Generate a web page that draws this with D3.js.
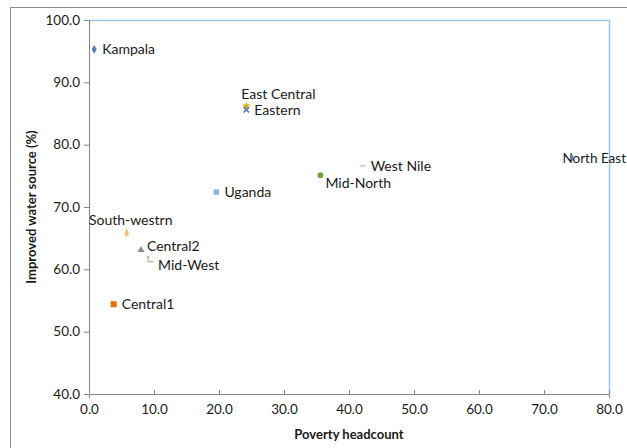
<!DOCTYPE html>
<html><head><meta charset="utf-8">
<script src="https://cdn.jsdelivr.net/npm/d3@7"></script>
<style>
body{margin:0;background:#fff;}
svg text{font-family:"Lato","Open Sans",sans-serif;fill:#1a1a1a;}
</style></head>
<body><svg id="c" width="627" height="448"></svg>
<script>
const regions = ["Kampala","East Central","Eastern","West Nile","Mid-North","North East","Uganda","South-westrn","Central2","Mid-West","Central1"];
const povertyHeadcount = [0.8, 24.2, 24.2, 42.1, 35.6, 74.4, 19.6, 5.8, 8.0, 9.4, 3.8];
const improvedWater = [95.3, 86.2, 85.6, 76.6, 75.1, 77.9, 72.4, 65.8, 63.1, 61.6, 54.4];
const xTicks = [0,10,20,30,40,50,60,70,80];
const yTicks = [40,50,60,70,80,90,100];

const svg = d3.select("#c");
const m = {l:89, r:609, t:20, b:394};
const x = d3.scaleLinear().domain([0,80]).range([m.l,m.r]);
const y = d3.scaleLinear().domain([40,100]).range([m.b,m.t]);

// outer chart border
svg.append("rect").attr("x",10.5).attr("y",7.5).attr("width",640).attr("height",460)
  .attr("fill","none").attr("stroke","#8c8c8c").attr("stroke-width",1);

// plot area top/right border (light blue)
svg.append("path").attr("d",`M${m.l},${m.t+0.5}H${m.r+0.5}V${m.b}`)
  .attr("fill","none").attr("stroke","#9dc3e6").attr("stroke-width",1.5);

// axes
const yAxis = d3.axisLeft(y).tickValues(yTicks).tickFormat(d3.format(".1f")).tickSize(5).tickPadding(4);
const xAxis = d3.axisBottom(x).tickValues(xTicks).tickFormat(d3.format(".1f")).tickSize(4).tickPadding(6);
const gy = svg.append("g").attr("transform",`translate(${m.l},0)`).call(yAxis);
const gx = svg.append("g").attr("transform",`translate(0,${m.b})`).call(xAxis);
[gx,gy].forEach(g=>{
  g.selectAll("path,line").attr("stroke","#868686");
  g.selectAll("text").style("font-size","13.5px").attr("fill","#1a1a1a");
});
gx.selectAll(".tick line").attr("y1",-4).attr("y2",0);

// axis titles
svg.append("text").attr("x",(m.l+m.r)/2).attr("y",439).attr("text-anchor","middle")
  .style("font-size","13px").style("font-weight","bold").text("Poverty headcount");
svg.append("text").attr("transform",`translate(36,${(m.t+m.b)/2}) rotate(-90)`).attr("text-anchor","middle")
  .style("font-size","13px").style("font-weight","bold").text("Improved water source (%)");

// markers
const markerStyle = {
  "Kampala":{sym:d3.symbolDiamond,size:22,color:"#4f81bd"},
  "East Central":{sym:d3.symbolStar,size:25,color:"#d9b300"},
  "Eastern":{sym:d3.symbolX,size:22,color:"#4f6fb0",stroke:true},
  "West Nile":{dash:true,color:"#f2a38b"},
  "Mid-North":{sym:d3.symbolCircle,size:28,color:"#70a040"},
  "North East":{tick:true,color:"#5b8fd0"},
  "Uganda":{sym:d3.symbolSquare,size:30,color:"#95b3d7"},
  "South-westrn":{sym:d3.symbolDiamond,size:20,color:"#fac060"},
  "Central2":{sym:d3.symbolTriangle,size:22,color:"#8c8c8c"},
  "Mid-West":{ell:true,color:"#9a9a9a"},
  "Central1":{sym:d3.symbolSquare,size:36,color:"#e46c0a"}
};
const labelPlace = {
  "East Central":"aboveR","South-westrn":"above","Mid-North":"below","North East":"edge",
  "Central2":"rightUp","Mid-West":"rightDown"
};
const data = regions.map((r,i)=>({name:r,px:povertyHeadcount[i],wy:improvedWater[i]}));
const g = svg.append("g");
data.forEach(d=>{
  const cx = x(d.px), cy = y(d.wy), s = markerStyle[d.name];
  if (s.sym){
    const p = g.append("path").attr("transform",`translate(${cx},${cy})`)
      .attr("d",d3.symbol().type(s.sym).size(s.size)());
    if (s.stroke) p.attr("fill","none").attr("stroke",s.color).attr("stroke-width",1.5);
    else p.attr("fill",s.color);
  } else if (s.dash){
    g.append("line").attr("x1",cx-2.5).attr("x2",cx+2.5).attr("y1",cy).attr("y2",cy).attr("stroke",s.color).attr("stroke-width",1.2);
  } else if (s.tick){
    g.append("line").attr("x1",cx).attr("x2",cx).attr("y1",cy-3).attr("y2",cy+3).attr("stroke",s.color).attr("stroke-width",1.2);
  } else if (s.ell){
    g.append("path").attr("d",`M${cx-2},${cy-2.5}V${cy+2.5}H${cx+3}`).attr("fill","none").attr("stroke",s.color).attr("stroke-width",1);
    g.append("line").attr("x1",cx-3.5).attr("x2",cx-0.5).attr("y1",cy-2.5).attr("y2",cy-2.5).attr("stroke",s.color).attr("stroke-width",1);
  }
  const place = labelPlace[d.name] || "right";
  const t = g.append("text").style("font-size","14px").text(d.name);
  if (place==="right") t.attr("x",cx+8).attr("y",cy+5);
  else if (place==="rightUp") t.attr("x",cx+6).attr("y",cy+1);
  else if (place==="rightDown") t.attr("x",cx+8).attr("y",cy+10.5);
  else if (place==="above") t.attr("x",cx+4).attr("y",cy-8).attr("text-anchor","middle");
  else if (place==="aboveR") t.attr("x",cx-5).attr("y",cy-7);
  else if (place==="below") t.attr("x",cx+5).attr("y",cy+13);
  else if (place==="edge") t.attr("x",626).attr("y",cy+5).attr("text-anchor","end").style("font-size","13.5px");
});
</script></body></html>
